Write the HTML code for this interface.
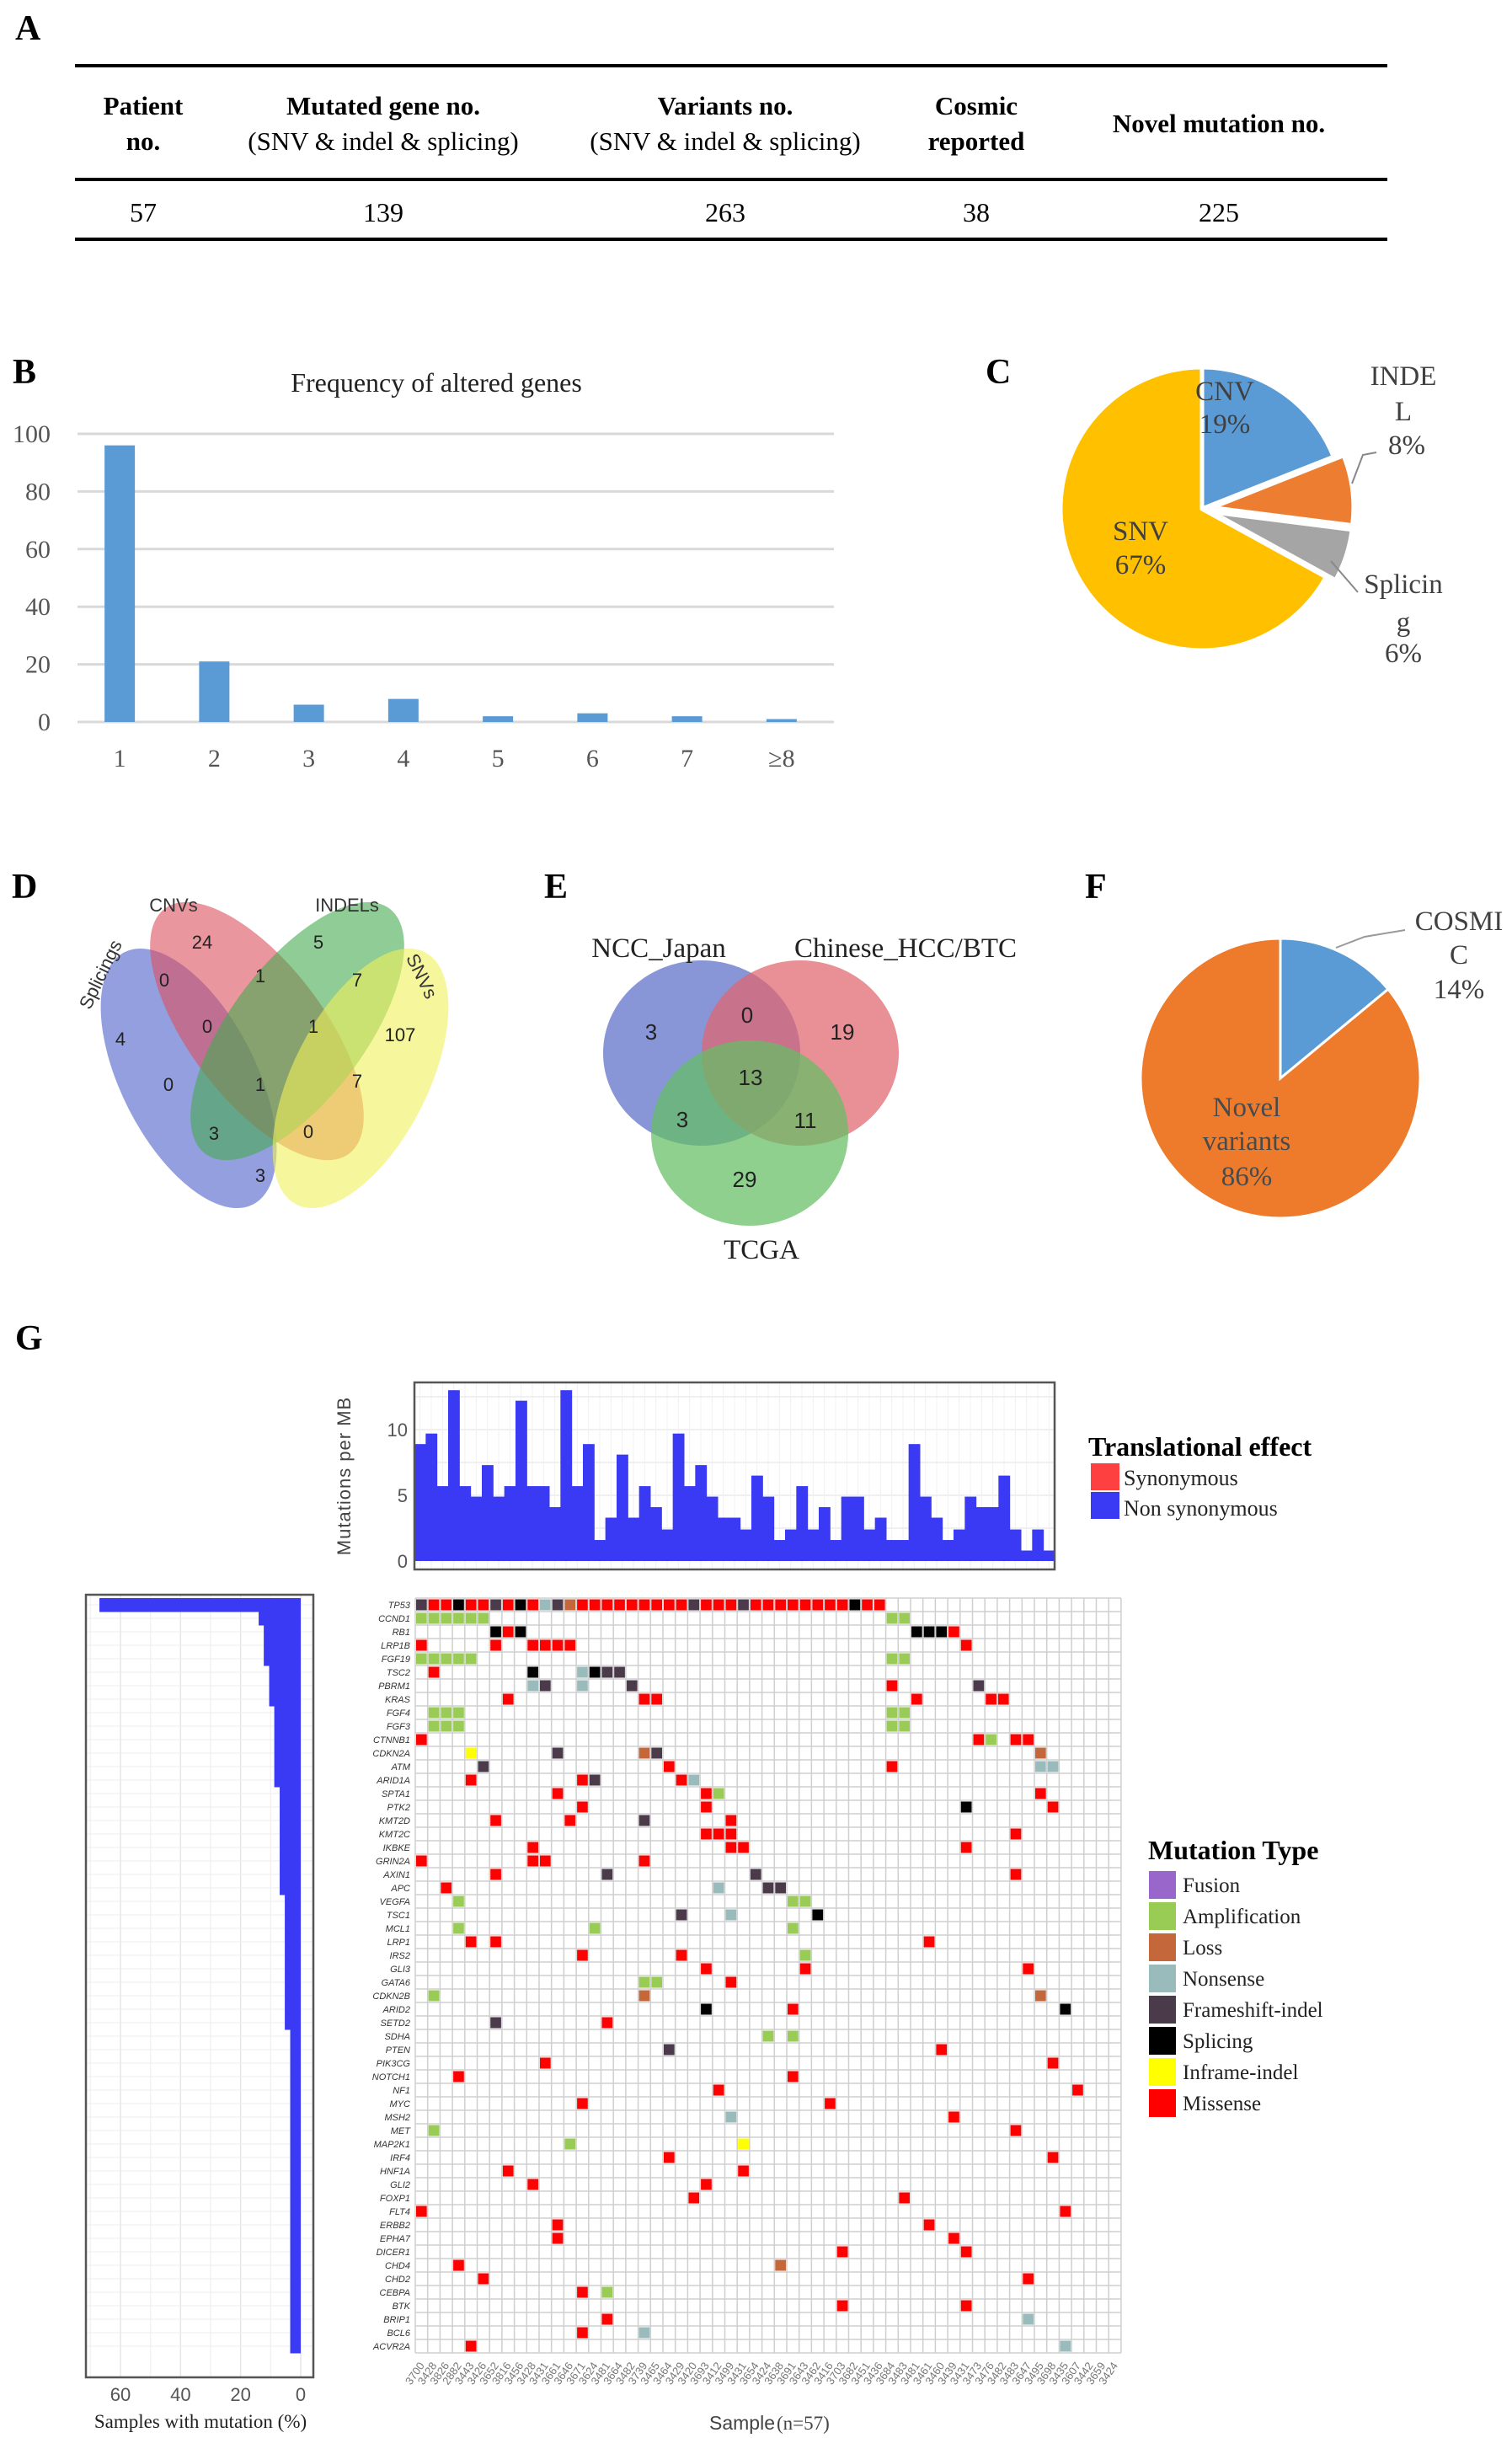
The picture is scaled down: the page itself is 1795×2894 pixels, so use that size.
<!DOCTYPE html>
<html><head><meta charset="utf-8"><style>
html,body{margin:0;padding:0;background:#fff;}
svg{display:block;}
.serif{font-family:"Liberation Serif",serif;}
.sans{font-family:"Liberation Sans",sans-serif;}
</style></head><body>
<svg id="fig" width="1795" height="2894" viewBox="0 0 1795 2894" xmlns="http://www.w3.org/2000/svg">
<g class="serif">
<text x="18" y="47" font-size="42" font-weight="bold" class="serif">A</text>
<rect x="89" y="76" width="1558" height="4" fill="#000"/>
<rect x="89" y="211" width="1558" height="4" fill="#000"/>
<rect x="89" y="282" width="1558" height="4" fill="#000"/>
<g font-size="31" font-weight="bold" text-anchor="middle">
<text x="170" y="136">Patient</text><text x="170" y="178">no.</text>
<text x="455" y="136">Mutated gene no.</text><text x="455" y="178" font-weight="normal">(SNV &amp; indel &amp; splicing)</text>
<text x="861" y="136">Variants no.</text><text x="861" y="178" font-weight="normal">(SNV &amp; indel &amp; splicing)</text>
<text x="1159" y="136">Cosmic</text><text x="1159" y="178">reported</text>
<text x="1447" y="157">Novel mutation no.</text>
</g>
<g font-size="32" text-anchor="middle">
<text x="170" y="263">57</text><text x="455" y="263">139</text><text x="861" y="263">263</text><text x="1159" y="263">38</text><text x="1447" y="263">225</text>
</g>
</g>
<g id="panelB"></g>
<g id="panelC"></g>
<g id="panelD"></g>
<g id="panelE"></g>
<g id="panelF"></g>
<g id="panelG"></g>
</svg>
<script>
const freqCategories = ["1","2","3","4","5","6","7","≥8"];
const freqValues = [96, 21, 6, 8, 2, 3, 2, 1];
const freqTicks = [0,20,40,60,80,100];
const pieCLabels = ["CNV","INDEL","Splicing","SNV"];
const pieCValues = [19, 8, 6, 67];
const pieFLabels = ["COSMIC","Novel variants"];
const pieFValues = [14, 86];
const vennDCounts = ["24","5","0","1","7","4","0","1","107","0","1","7","3","0","3"];
const vennECounts = ["3","0","19","13","3","11","29"];
const tmbValues = [8.9,9.7,5.7,13,5.7,4.9,7.3,4.9,5.7,12.2,5.7,5.7,4.1,13,5.7,8.9,1.6,3.3,8.1,3.3,5.7,4.1,2.4,9.7,5.7,7.3,4.9,3.3,3.3,2.4,6.5,4.9,1.6,2.4,5.7,2.4,4.1,1.6,4.9,4.9,2.4,3.3,1.6,1.6,8.9,4.9,3.3,1.6,2.4,4.9,4.1,4.1,6.5,2.4,0.8,2.4,0.8];
const tmbTicks = [0,5,10];
const genes = ["TP53","CCND1","RB1","LRP1B","FGF19","TSC2","PBRM1","KRAS","FGF4","FGF3","CTNNB1","CDKN2A","ATM","ARID1A","SPTA1","PTK2","KMT2D","KMT2C","IKBKE","GRIN2A","AXIN1","APC","VEGFA","TSC1","MCL1","LRP1","IRS2","GLI3","GATA6","CDKN2B","ARID2","SETD2","SDHA","PTEN","PIK3CG","NOTCH1","NF1","MYC","MSH2","MET","MAP2K1","IRF4","HNF1A","GLI2","FOXP1","FLT4","ERBB2","EPHA7","DICER1","CHD4","CHD2","CEBPA","BTK","BRIP1","BCL6","ACVR2A"];
const genePct = [67,14,12.3,12.3,12.3,10.5,10.5,10.5,8.8,8.8,8.8,8.8,8.8,8.8,7,7,7,7,7,7,7,7,5.3,5.3,5.3,5.3,5.3,5.3,5.3,5.3,5.3,5.3,3.5,3.5,3.5,3.5,3.5,3.5,3.5,3.5,3.5,3.5,3.5,3.5,3.5,3.5,3.5,3.5,3.5,3.5,3.5,3.5,3.5,3.5,3.5,3.5];
const pctTicks = [0,20,40,60];
const mutCells = (
"0:0:F 0:1:M 0:2:M 0:3:S 0:4:M 0:5:M 0:6:F 0:7:M 0:8:S 0:9:M 0:10:N 0:11:F 0:12:L 0:13:M 0:14:M 0:15:M 0:16:M 0:17:M 0:18:M 0:19:M 0:20:M 0:21:M 0:22:F 0:23:M 0:24:M 0:25:M 0:26:F 0:27:M 0:28:M 0:29:M 0:30:M 0:31:M 0:32:M 0:33:M 0:34:M 0:35:S 0:36:M 0:37:M " +
"1:0:A 1:1:A 1:2:A 1:3:A 1:4:A 1:5:A 1:38:A 1:39:A 2:6:S 2:7:M 2:8:S 2:40:S 2:41:S 2:42:S 2:43:M " +
"3:0:M 3:6:M 3:9:M 3:10:M 3:11:M 3:12:M 3:44:M 4:0:A 4:1:A 4:2:A 4:3:A 4:4:A 4:38:A 4:39:A " +
"5:1:M 5:9:S 5:13:N 5:14:S 5:15:F 5:16:F 6:9:N 6:10:F 6:13:N 6:17:F 6:38:M 6:45:F " +
"7:7:M 7:18:M 7:19:M 7:40:M 7:46:M 7:47:M 8:1:A 8:2:A 8:3:A 8:38:A 8:39:A 9:1:A 9:2:A 9:3:A 9:38:A 9:39:A " +
"10:0:M 10:45:M 10:46:A 10:48:M 10:49:M 11:4:I 11:11:F 11:18:L 11:19:F 11:50:L 12:5:F 12:20:M 12:38:M 12:50:N 12:51:N " +
"13:4:M 13:13:M 13:14:F 13:21:M 13:22:N 14:11:M 14:23:M 14:24:A 14:50:M 15:13:M 15:23:M 15:44:S 15:51:M " +
"16:6:M 16:12:M 16:18:F 16:25:M 17:23:M 17:24:M 17:25:M 17:48:M 18:9:M 18:25:M 18:26:M 18:44:M " +
"19:0:M 19:9:M 19:10:M 19:18:M 20:6:M 20:15:F 20:27:F 20:48:M 21:2:M 21:24:N 21:28:F 21:29:F " +
"22:3:A 22:30:A 22:31:A 23:21:F 23:25:N 23:32:S 24:3:A 24:14:A 24:30:A 25:4:M 25:6:M 25:41:M " +
"26:13:M 26:21:M 26:31:A 27:23:M 27:31:M 27:49:M 28:18:A 28:19:A 28:25:M 29:1:A 29:18:L 29:50:L " +
"30:23:S 30:30:M 30:52:S 31:6:F 31:15:M 32:28:A 32:30:A 33:20:F 33:42:M 34:10:M 34:51:M " +
"35:3:M 35:30:M 36:24:M 36:53:M 37:13:M 37:33:M 38:25:N 38:43:M 39:1:A 39:48:M 40:12:A 40:26:I " +
"41:20:M 41:51:M 42:7:M 42:26:M 43:9:M 43:23:M 44:22:M 44:39:M 45:0:M 45:52:M 46:11:M 46:41:M " +
"47:11:M 47:43:M 48:34:M 48:44:M 49:3:M 49:29:L 50:5:M 50:49:M 51:13:M 51:15:A 52:34:M 52:44:M " +
"53:15:M 53:49:N 54:13:M 54:18:N 55:4:M 55:52:N").split(" ");
const sampleIds = ["3700","3428","3826","2882","3443","3426","3652","3816","3456","3428","3431","3661","3646","3671","3624","3481","3664","3482","3739","3465","3464","3429","3420","3693","3412","3499","3431","3654","3424","3638","3691","3643","3462","3416","3703","3682","3451","3436","3684","3483","3481","3461","3460","3439","3431","3473","3476","3482","3483","3647","3495","3698","3435","3607","3442","3659","3424"];
const mutTypes = ["Fusion","Amplification","Loss","Nonsense","Frameshift-indel","Splicing","Inframe-indel","Missense"];

const NS="http://www.w3.org/2000/svg";
function mk(tag,attrs,parent,text){const e=document.createElementNS(NS,tag);for(const k in attrs)e.setAttribute(k,attrs[k]);if(text!==undefined)e.textContent=text;parent.appendChild(e);return e;}
const typeColor={F:"#4A3A4A",M:"#FF0000",S:"#000000",N:"#99BBBB",L:"#C4673A",A:"#99CC55",I:"#FFFF00",U:"#9966CC"};
const legendColors=["#9966CC","#99CC55","#C4673A","#99BBBB","#4A3A4A","#000000","#FFFF00","#FF0000"];
const SERIF='"Liberation Serif", serif', SANS='"Liberation Sans", sans-serif';

(function(){
const g=document.getElementById('panelB');
let t=mk('text',{x:15,y:455,'font-size':42,'font-weight':'bold','font-family':SERIF},g,'B');

t=mk('text',{x:518,y:465,'font-size':32,'text-anchor':'middle','font-family':SERIF,fill:'#222'},g,'Frequency of altered genes');

const x0=92,x1=990,yb=857,yt=515;
const y=v=>yb-(v/100)*(yb-yt);
const step=(x1-x0)/freqCategories.length;
freqTicks.forEach(v=>{
 const l=mk('line',{x1:x0,x2:x1,y1:y(v),y2:y(v),stroke:'#d9d9d9','stroke-width':3},g);
 
 const tx=mk('text',{x:60,y:y(v)+10,'font-size':30,'text-anchor':'end','font-family':SERIF,fill:'#555'},g,String(v));
 
});
freqValues.forEach((v,i)=>{
 const cx=x0+step*(i+0.5)-6;
 const r=mk('rect',{x:cx-18,y:y(v),width:36,height:yb-y(v),fill:'#5B9BD5'},g);
 
 const tx=mk('text',{x:cx,y:910,'font-size':30,'text-anchor':'middle','font-family':SERIF,fill:'#555'},g,freqCategories[i]);
 
});
})();

function slicePath(cx,cy,r,a0,a1){
 const p=a=>[cx+r*Math.sin(a),cy-r*Math.cos(a)];
 const s=p(a0),e=p(a1);const large=(a1-a0)>Math.PI?1:0;
 return `M${cx},${cy} L${s[0]},${s[1]} A${r},${r} 0 ${large} 1 ${e[0]},${e[1]} Z`;
}
(function(){
const g=document.getElementById('panelC');
let t=mk('text',{x:1170,y:455,'font-size':42,'font-weight':'bold','font-family':SERIF},g,'C');

const cx=1427,cy=604,r=168;const cols=["#5B9BD5","#ED7D31","#A5A5A5","#FFC000"];
const explode=[0,12,12,0];
const tot=pieCValues.reduce((a,b)=>a+b,0);let a=0;
pieCValues.forEach((v,i)=>{
 const a1=a+v/tot*2*Math.PI;const mid=(a+a1)/2;
 const dx=explode[i]*Math.sin(mid),dy=-explode[i]*Math.cos(mid);
 const p=mk('path',{d:slicePath(cx+dx,cy+dy,r,a,a1),fill:cols[i],stroke:'#fff','stroke-width':5},g);
 
 a=a1;
});
const lab=[[1454,475,"CNV"],[1454,514,pieCValues[0]+"%"],[1666,457,"INDE"],[1666,499,"L"],[1670,539,pieCValues[1]+"%"],[1354,641,"SNV"],[1354,681,pieCValues[3]+"%"],[1666,704,"Splicin"],[1666,749,"g"],[1666,786,pieCValues[2]+"%"]];
lab.forEach(l=>{const tx=mk('text',{x:l[0],y:l[1],'font-size':33,'text-anchor':'middle','font-family':SERIF,fill:'#404040'},g,l[2]);});
let ln=mk('polyline',{points:"1605,574 1618,540 1634,537",fill:'none',stroke:'#888','stroke-width':2},g);
ln=mk('polyline',{points:"1580,666 1612,703",fill:'none',stroke:'#888','stroke-width':2},g);
})();

(function(){
const g=document.getElementById('panelD');
let t=mk('text',{x:14,y:1066,'font-size':42,'font-weight':'bold','font-family':SERIF},g,'D');

const ells=[["splicings",224,1280,168,80,63,"rgba(75,95,200,0.6)"],["cnvs",305,1224,182,80,53,"rgba(220,80,95,0.6)"],["indels",353,1224,182,80,-53,"rgba(70,170,80,0.6)"],["snvs",428,1280,168,80,-63,"rgba(240,240,90,0.6)"]];
ells.forEach(e=>{const el=mk('ellipse',{cx:e[1],cy:e[2],rx:e[3],ry:e[4],transform:`rotate(${e[5]} ${e[1]} ${e[2]})`,fill:e[6]},g);});
const pos=[[240,1126],[378,1126],[195,1171],[309,1166],[424,1171],[143,1241],[246,1226],[372,1226],[475,1236],[200,1295],[309,1295],[424,1291],[254,1353],[366,1351],[309,1403]];
vennDCounts.forEach((c,i)=>{const tx=mk('text',{x:pos[i][0],y:pos[i][1],'font-size':22,'text-anchor':'middle','font-family':SANS,fill:'#222'},g,c);});
const labs=[[206,1082,0,"CNVs"],[412,1082,0,"INDELs"],[126,1160,-64,"Splicings"],[494,1162,64,"SNVs"]];
labs.forEach(l=>{const tx=mk('text',{x:l[0],y:l[1],'font-size':22,'text-anchor':'middle','font-family':SANS,fill:'#333',transform:`rotate(${l[2]} ${l[0]} ${l[1]})`},g,l[3]);});
})();

(function(){
const g=document.getElementById('panelE');
let t=mk('text',{x:646,y:1066,'font-size':42,'font-weight':'bold','font-family':SERIF},g,'E');

const cs=[["ncc-japan",833,1250,"rgba(90,110,200,0.72)"],["chinese-hcc-btc",950,1250,"rgba(225,100,110,0.72)"],["tcga",890,1345,"rgba(100,190,100,0.72)"]];
cs.forEach(c=>{const el=mk('ellipse',{cx:c[1],cy:c[2],rx:117,ry:110,fill:c[3]},g);});
const pos=[[773,1234],[887,1214],[1000,1234],[891,1288],[810,1338],[956,1339],[884,1409]];
vennECounts.forEach((c,i)=>{const tx=mk('text',{x:pos[i][0],y:pos[i][1],'font-size':26,'text-anchor':'middle','font-family':SANS,fill:'#222'},g,c);});
[[782,1136,"NCC_Japan"],[1075,1136,"Chinese_HCC/BTC"],[904,1494,"TCGA"]].forEach(l=>{const tx=mk('text',{x:l[0],y:l[1],'font-size':33,'text-anchor':'middle','font-family':SERIF,fill:'#222'},g,l[2]);});
})();

(function(){
const g=document.getElementById('panelF');
let t=mk('text',{x:1288,y:1066,'font-size':42,'font-weight':'bold','font-family':SERIF},g,'F');

const cx=1520,cy=1280,r=166;const cols=["#5B9BD5","#EE7B2C"];
const tot=pieFValues.reduce((a,b)=>a+b,0);let a=0;
pieFValues.forEach((v,i)=>{const a1=a+v/tot*2*Math.PI;const p=mk('path',{d:slicePath(cx,cy,r,a,a1),fill:cols[i],stroke:'#fff','stroke-width':3},g);a=a1;});
[[1732,1104,"COSMI"],[1732,1144,"C"],[1732,1185,pieFValues[0]+"%"]].forEach(l=>{const tx=mk('text',{x:l[0],y:l[1],'font-size':33,'text-anchor':'middle','font-family':SERIF,fill:'#404040'},g,l[2]);});
[[1480,1325,"Novel"],[1480,1365,"variants"],[1480,1407,pieFValues[1]+"%"]].forEach(l=>{const tx=mk('text',{x:l[0],y:l[1],'font-size':33,'text-anchor':'middle','font-family':SERIF,fill:'#4a4a4a'},g,l[2]);});
const ln=mk('polyline',{points:"1586,1125 1620,1112 1668,1104",fill:'none',stroke:'#999','stroke-width':2},g);
})();

(function(){
const g=document.getElementById('panelG');
let t=mk('text',{x:18,y:1602,'font-size':42,'font-weight':'bold','font-family':SERIF},g,'G');

const bx0=492,bx1=1252,by0=1641,by1=1863,yz=1853,ten=1697;
const ty=v=>yz-(v/10)*(yz-ten);
const bw=(bx1-bx0)/tmbValues.length;
let fr=mk('rect',{x:bx0,y:by0,width:bx1-bx0,height:by1-by0,fill:'#fff'},g);
for(let v=2.5;v<=12.5;v+=2.5){const l=mk('line',{x1:bx0,x2:bx1,y1:ty(v),y2:ty(v),stroke:'#ececec','stroke-width':1.5},g);}
tmbValues.forEach((v,i)=>{const l=mk('line',{x1:bx0+bw*(i+0.5),x2:bx0+bw*(i+0.5),y1:by0,y2:by1,stroke:'#f0f0f0','stroke-width':1},g);});
tmbValues.forEach((v,i)=>{const r=mk('rect',{x:bx0+bw*i,y:ty(v),width:bw+0.5,height:yz-ty(v),fill:'#3A3AF5'},g);});
fr=mk('rect',{x:bx0,y:by0,width:bx1-bx0,height:by1-by0,fill:'none',stroke:'#555','stroke-width':2.5},g);
tmbTicks.forEach(v=>{const tx=mk('text',{x:484,y:ty(v)+8,'font-size':22,'text-anchor':'end','font-family':SANS,fill:'#555'},g,String(v));});
t=mk('text',{x:416,y:1752,'font-size':22,'text-anchor':'middle','font-family':SANS,fill:'#444',transform:'rotate(-90 416 1752)','letter-spacing':'1'},g,'Mutations per MB');
t=mk('text',{x:1292,y:1728,'font-size':32,'font-weight':'bold','font-family':SERIF},g,'Translational effect');
let r=mk('rect',{x:1295,y:1737,width:34,height:32,fill:'#FF4040'},g);
r=mk('rect',{x:1295,y:1771,width:34,height:32,fill:'#3A3AF5'},g);
t=mk('text',{x:1334,y:1763,'font-size':26,'font-family':SERIF,fill:'#222'},g,'Synonymous');
t=mk('text',{x:1334,y:1799,'font-size':26,'font-family':SERIF,fill:'#222'},g,'Non synonymous');

const mx0=493,cw=14.7,my0=1897,rh=16,nc=57,nr=genes.length;
for(let i=0;i<=nr;i++){const l=mk('line',{x1:mx0,x2:mx0+cw*nc,y1:my0+rh*i,y2:my0+rh*i,stroke:'#cfcfcf','stroke-width':1.5},g);}
for(let j=0;j<=nc;j++){const l=mk('line',{x1:mx0+cw*j,x2:mx0+cw*j,y1:my0,y2:my0+rh*nr,stroke:'#cfcfcf','stroke-width':1.5},g);}
mutCells.forEach(s=>{if(!s)return;const p=s.split(':');const ri=+p[0],ci=+p[1];
 const c=mk('rect',{x:mx0+cw*ci+1,y:my0+rh*ri+1.5,width:cw-2,height:rh-3,fill:typeColor[p[2]]},g);
 });
genes.forEach((gn,i)=>{const tx=mk('text',{x:487,y:my0+rh*i+12,'font-size':11,'font-style':'italic','text-anchor':'end','font-family':SANS,fill:'#333'},g,gn);});
sampleIds.forEach((s,j)=>{const x=mx0+cw*(j+0.5)+4,y=2808;const tx=mk('text',{x:x,y:y,'font-size':13,'text-anchor':'end','font-family':SANS,fill:'#777',transform:`rotate(-55 ${x} ${y})`},g,s);});
t=mk('text',{x:842,y:2884,'font-size':23,'font-family':SANS,fill:'#444'},g,'Sample');
t=mk('text',{x:922,y:2884,'font-size':23,'font-family':SERIF,fill:'#444'},g,'(n=57)');

const lx0=102,lx1=372,lz=357,sixty=143;
const px=v=>lz-(v/60)*(lz-sixty);
const ly0=1893,ly1=2822;
fr=mk('rect',{x:lx0,y:ly0,width:lx1-lx0,height:ly1-ly0,fill:'#fff'},g);
for(let v=0;v<=70;v+=10){const l=mk('line',{x1:px(v),x2:px(v),y1:ly0,y2:ly1,stroke:v%20===0?'#e6e6e6':'#f2f2f2','stroke-width':1.5},g);}
genes.forEach((gn,i)=>{const l=mk('line',{x1:lx0,x2:lx1,y1:my0+rh*(i+0.5),y2:my0+rh*(i+0.5),stroke:'#ededed','stroke-width':1},g);});
genePct.forEach((v,i)=>{const b=mk('rect',{x:px(v),y:my0+rh*i,width:lz-px(v),height:rh+0.5,fill:'#3A3AF5'},g);});
fr=mk('rect',{x:lx0,y:ly0,width:lx1-lx0,height:ly1-ly0,fill:'none',stroke:'#555','stroke-width':2.5},g);
pctTicks.forEach(v=>{const tx=mk('text',{x:px(v),y:2850,'font-size':22,'text-anchor':'middle','font-family':SANS,fill:'#555'},g,String(v));});
t=mk('text',{x:238,y:2882,'font-size':23,'text-anchor':'middle','font-family':SERIF,fill:'#222'},g,'Samples with mutation (%)');

t=mk('text',{x:1363,y:2207,'font-size':32,'font-weight':'bold','font-family':SERIF},g,'Mutation Type');
mutTypes.forEach((m,i)=>{const y=2221+i*37;
 const s=mk('rect',{x:1364,y:y,width:32,height:33,fill:legendColors[i]},g);
 const tx=mk('text',{x:1404,y:y+25,'font-size':25,'font-family':SERIF,fill:'#222'},g,m);});
})();
</script>
</body></html>
